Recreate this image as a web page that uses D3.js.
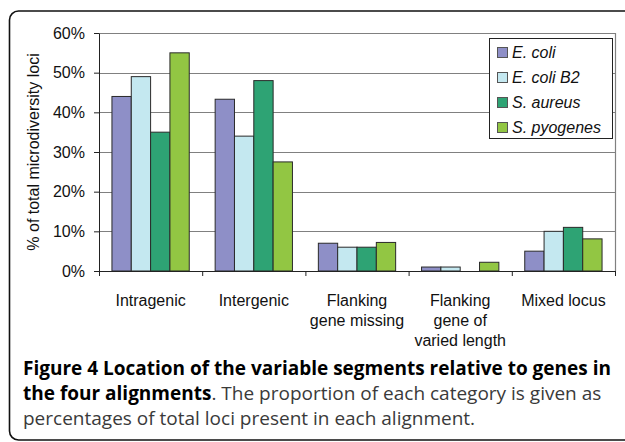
<!DOCTYPE html>
<html>
<head>
<meta charset="utf-8">
<script src="https://cdn.jsdelivr.net/npm/d3@7"></script>
<style>
  body { margin: 0; background: #fff; }
  svg { display: block; }
</style>
</head>
<body>
<svg id="chart"></svg>
<script>
// categories on the x axis (multi-line labels)
var categories = [
  ["Intragenic"],
  ["Intergenic"],
  ["Flanking", "gene missing"],
  ["Flanking", "gene of", "varied length"],
  ["Mixed locus"]
];
var seriesNames = ["E. coli", "E. coli B2", "S. aureus", "S. pyogenes"];
var seriesColors = ["#8e8fc7", "#c4e8f0", "#2ea374", "#92c643"];

// percent values, one array per series
var ecoli     = [44, 43.3, 7, 1, 5];
var ecoliB2   = [49, 34, 6, 1, 10];
var saureus   = [35, 48, 6, 0, 11];
var spyogenes = [55, 27.5, 7.2, 2.2, 8.1];

var yTicks = [0, 10, 20, 30, 40, 50, 60];

var captionBold = ["Figure 4 Location of the variable segments relative to genes in", "the four alignments"];
var captionRest = [". The proportion of each category is given as", "percentages of total loci present in each alignment."];

var W = 625, H = 442;
var m = {left: 99, right: 10, top: 33, bottom: 171};
var FONT = "Arial, 'Liberation Sans', Helvetica, sans-serif";

var svg = d3.select("#chart")
  .attr("width", W)
  .attr("height", H);

// outer frame (runs off right edge)
svg.append("rect")
  .attr("x", 9.5).attr("y", 11)
  .attr("width", 800).attr("height", 429)
  .attr("rx", 9)
  .attr("fill", "none")
  .attr("stroke", "#111")
  .attr("stroke-width", 1.6);

var plotW = W - m.left - m.right,
    plotH = H - m.top - m.bottom;

var g = svg.append("g").attr("transform", "translate(" + m.left + "," + m.top + ")");

var x0 = d3.scaleBand()
  .domain(d3.range(categories.length))
  .range([0, plotW])
  .padding(0);

var x1 = d3.scaleBand()
  .domain(d3.range(seriesNames.length))
  .range([0, x0.bandwidth()])
  .paddingInner(0)
  .paddingOuter(0.67);

var y = d3.scaleLinear()
  .domain([0, 60])
  .range([plotH, 0]);

// gridlines
g.selectAll(".grid")
  .data(yTicks.filter(d => d > 0))
  .enter().append("line")
  .attr("x1", 0).attr("x2", plotW)
  .attr("y1", d => Math.round(y(d)) + 0.5)
  .attr("y2", d => Math.round(y(d)) + 0.5)
  .attr("stroke", "#808080")
  .attr("stroke-width", 1.2);

// right border of plot
g.append("line")
  .attr("x1", plotW + 0.5).attr("x2", plotW + 0.5)
  .attr("y1", 0).attr("y2", plotH)
  .attr("stroke", "#808080")
  .attr("stroke-width", 1.2);

// bars
var rows = categories.map(function(c, i) {
  return [ecoli[i], ecoliB2[i], saureus[i], spyogenes[i]];
});

var groups = g.selectAll(".cat")
  .data(rows)
  .enter().append("g")
  .attr("transform", (d, i) => "translate(" + x0(i) + ",0)");

groups.selectAll("rect")
  .data(d => d.map((v, j) => ({v: v, j: j})).filter(o => o.v > 0))
  .enter().append("rect")
  .attr("x", d => x1(d.j))
  .attr("width", x1.bandwidth())
  .attr("y", d => y(d.v))
  .attr("height", d => plotH - y(d.v))
  .attr("fill", d => seriesColors[d.j])
  .attr("stroke", "#2a2a2a")
  .attr("stroke-width", 1);

// y axis
var yAxis = g.append("g")
  .call(d3.axisLeft(y).tickValues(yTicks).tickFormat(d => d + "%").tickSize(5).tickSizeOuter(0));
yAxis.attr("font-family", null).attr("font-size", null);
yAxis.select(".domain").attr("stroke", "#222");
yAxis.selectAll(".tick line").attr("stroke", "#222");
yAxis.selectAll("text")
  .attr("x", -14)
  .attr("font-family", FONT)
  .attr("font-size", 16)
  .attr("fill", "#111");

// x axis
var xAxis = g.append("g")
  .attr("transform", "translate(0," + plotH + ")")
  .call(d3.axisBottom(d3.scaleLinear().domain([0, categories.length]).range([0, plotW]))
    .tickValues(d3.range(categories.length + 1))
    .tickFormat("")
    .tickSize(5)
    .tickSizeOuter(0));
xAxis.select(".domain").attr("stroke", "#222");
xAxis.selectAll(".tick line").attr("stroke", "#222");

// category labels
var labels = g.selectAll(".xlab")
  .data(categories)
  .enter().append("text")
  .attr("text-anchor", "middle")
  .attr("x", (d, i) => x0(i) + x0.bandwidth() / 2)
  .attr("y", plotH + 35)
  .attr("font-family", FONT)
  .attr("font-size", 16)
  .attr("fill", "#111");
labels.selectAll("tspan")
  .data(d => d)
  .enter().append("tspan")
  .attr("x", function() { return d3.select(this.parentNode).attr("x"); })
  .attr("dy", (d, i) => i === 0 ? 0 : 20)
  .text(d => d);

// y axis title
svg.append("text")
  .attr("transform", "translate(39," + (m.top + plotH / 2) + ") rotate(-90)")
  .attr("text-anchor", "middle")
  .attr("font-family", FONT)
  .attr("font-size", 16)
  .attr("fill", "#111")
  .text("% of total microdiversity loci");

// legend
var leg = svg.append("g").attr("transform", "translate(489,38)");
leg.append("rect")
  .attr("x", 0.5).attr("y", 0.5)
  .attr("width", 123).attr("height", 100)
  .attr("fill", "#fff")
  .attr("stroke", "#222");
var items = leg.selectAll(".li")
  .data(seriesNames)
  .enter().append("g")
  .attr("transform", (d, i) => "translate(0," + (14 + i * 25) + ")");
items.append("rect")
  .attr("x", 8.5).attr("y", -4.5)
  .attr("width", 10).attr("height", 10)
  .attr("fill", (d, i) => seriesColors[i])
  .attr("stroke", "#555");
items.append("text")
  .attr("x", 23).attr("y", 6)
  .attr("font-family", FONT)
  .attr("font-size", 16)
  .attr("font-style", "italic")
  .attr("fill", "#111")
  .text(d => d);

// caption
var cap = svg.append("g").attr("font-family", "'Open Sans', 'Noto Sans', sans-serif").attr("font-size", 19);
var t1 = cap.append("text").attr("x", 23).attr("y", 375).attr("fill", "#000");
t1.append("tspan").attr("font-weight", "bold").text(captionBold[0]);
var t2 = cap.append("text").attr("x", 23).attr("y", 400).attr("fill", "#000");
t2.append("tspan").attr("font-weight", "bold").text(captionBold[1]);
t2.append("tspan").attr("fill", "#3a3a3a").text(captionRest[0]);
cap.append("text").attr("x", 23).attr("y", 425).attr("fill", "#3a3a3a").text(captionRest[1]);
</script>
</body>
</html>
